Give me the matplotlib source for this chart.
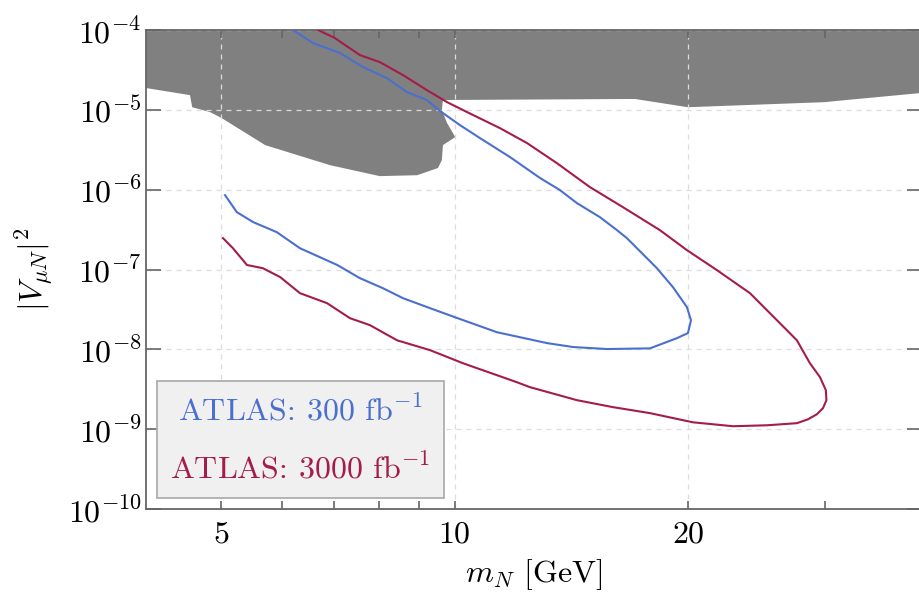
#!/usr/bin/env python3

import numpy as np
import matplotlib
matplotlib.use('Agg')
from matplotlib import pyplot as plt
from matplotlib import ticker


plt.rcParams['font.family'] = 'serif'
plt.rcParams['font.serif'] = ['cmr10']
plt.rcParams['mathtext.fontset'] = 'cm'
plt.rcParams['axes.formatter.use_mathtext'] = True
plt.rcParams['axes.unicode_minus'] = False

COLOR_300 = '#4a6fce'
COLOR_3000 = '#a51c4b'
COLOR_EXCL = '#808080'
COLOR_GRID = '#dcdcdc'
COLOR_AXIS = '#666666'
FONTSIZE = 23

XLIM = (4, 40)
YLIM = (1e-10, 1e-4)
XTICKS = [5, 10, 20]
XMINOR = [6, 7, 8, 9, 30]

# existing exclusion (lower edge of the grey band), m_N in GeV
m_excl = [4.0, 4.56, 4.59, 4.84, 5.01, 5.70, 6.91, 8.01, 8.95, 9.52, 9.63,
          9.66, 10.02, 9.78, 9.63, 9.66, 17.08, 19.99, 30.0, 32.0, 40.0]
v_excl = [1.88e-5, 1.53e-5, 1.08e-5, 9.38e-6, 7.89e-6, 3.62e-6, 2.03e-6,
          1.48e-6, 1.52e-6, 1.87e-6, 2.35e-6, 3.62e-6, 4.56e-6, 6.84e-6,
          9.93e-6, 1.33e-5, 1.37e-5, 1.08e-5, 1.25e-5, 1.33e-5, 1.63e-5]

# ATLAS 300 fb^-1 contour (upper branch, tip, lower branch)
m_300 = [6.19, 6.57, 7.12, 7.62, 8.18, 8.68, 9.21, 9.58, 10.16, 10.78, 11.79,
         12.89, 13.67, 14.38, 15.39, 16.19, 16.68, 18.23, 19.12, 19.93, 20.17,
         19.99, 19.34, 17.86, 15.72, 14.21, 13.15, 11.34, 10.01, 9.30, 8.58,
         8.08, 7.55, 7.06, 6.32, 5.90, 5.50, 5.24, 5.06]
v_300 = [1.0e-4, 6.87e-5, 5.15e-5, 3.44e-5, 2.50e-5, 1.67e-5, 1.33e-5, 9.66e-6,
         6.45e-6, 4.44e-6, 2.56e-6, 1.40e-6, 9.9e-7, 6.79e-7, 4.54e-7, 3.12e-7,
         2.47e-7, 1.04e-7, 6.02e-8, 3.38e-8, 2.32e-8, 1.60e-8, 1.38e-8, 1.03e-8,
         1.01e-8, 1.07e-8, 1.20e-8, 1.64e-8, 2.53e-8, 3.28e-8, 4.38e-8, 5.85e-8,
         7.80e-8, 1.14e-7, 1.85e-7, 2.94e-7, 3.93e-7, 5.24e-7, 8.55e-7]

# ATLAS 3000 fb^-1 contour
m_3000 = [6.67, 7.01, 7.55, 8.01, 8.58, 9.21, 9.78, 10.38, 11.44, 12.40, 13.55,
          14.94, 16.48, 18.39, 19.93, 21.79, 24.03, 26.03, 27.62, 28.71, 29.58,
          30.10, 30.15, 29.84, 29.31, 28.54, 27.62, 25.27, 22.85, 20.29, 17.86,
          16.00, 14.38, 12.51, 12.03, 10.25, 9.30, 8.43, 7.78, 7.33, 6.85, 6.32,
          5.96, 5.66, 5.40, 5.18, 5.03]
v_3000 = [1.0e-4, 7.94e-5, 4.86e-5, 3.97e-5, 2.73e-5, 1.77e-5, 1.25e-5, 9.38e-6,
          5.91e-6, 3.84e-6, 2.15e-6, 1.08e-6, 6.05e-7, 3.12e-7, 1.75e-7, 9.82e-8,
          5.06e-8, 2.32e-8, 1.30e-8, 6.71e-9, 4.49e-9, 3.08e-9, 2.31e-9, 1.83e-9,
          1.54e-9, 1.33e-9, 1.19e-9, 1.12e-9, 1.09e-9, 1.22e-9, 1.59e-9, 1.89e-9,
          2.31e-9, 3.36e-9, 3.88e-9, 6.71e-9, 9.77e-9, 1.30e-8, 2.01e-8, 2.46e-8,
          3.79e-8, 5.06e-8, 8.04e-8, 1.04e-7, 1.14e-7, 1.85e-7, 2.47e-7]

LABEL_300 = r'ATLAS: 300 fb$^{-1}$'
LABEL_3000 = r'ATLAS: 3000 fb$^{-1}$'


fig = plt.figure(figsize=(9.19, 6.06), dpi=100)
ax = fig.add_axes([0.1587, 0.160, 0.8442, 0.7904])
ax.set_xscale('log')
ax.set_yscale('log')
ax.set_xlim(XLIM)
ax.set_ylim(YLIM)

# grey band: lower edge, closed along the top of the axes
ax.fill(np.concatenate([m_excl, [m_excl[-1], m_excl[0]]]),
        np.concatenate([v_excl, [YLIM[1], YLIM[1]]]),
        color=COLOR_EXCL, lw=0, zorder=1)

ax.plot(m_300, v_300, color=COLOR_300, lw=1.5, label=LABEL_300, zorder=3)
ax.plot(m_3000, v_3000, color=COLOR_3000, lw=1.5, label=LABEL_3000, zorder=3)

# ticks
ax.xaxis.set_major_locator(ticker.FixedLocator(XTICKS))
ax.xaxis.set_major_formatter(ticker.FuncFormatter(lambda v, p: '%d' % v))
ax.xaxis.set_minor_locator(ticker.FixedLocator(XMINOR))
ax.xaxis.set_minor_formatter(ticker.NullFormatter())
ax.yaxis.set_major_locator(ticker.LogLocator(base=10, numticks=20))
ax.yaxis.set_major_formatter(
    ticker.FuncFormatter(lambda v, p: r'$10^{%d}$' % round(np.log10(v))))
ax.yaxis.set_minor_locator(ticker.NullLocator())

ax.tick_params(which='both', direction='in', top=True, right=True,
               color=COLOR_AXIS, labelsize=FONTSIZE)
ax.tick_params(axis='y', which='major', length=10.5, width=1.2, pad=3)
ax.tick_params(axis='x', which='both', length=6, width=1.2, pad=9)

for spine in ax.spines.values():
    spine.set_color(COLOR_AXIS)
    spine.set_linewidth(1.3)

ax.grid(True, which='major', ls='--', color=COLOR_GRID, lw=0.9, dashes=(4, 4))

ax.set_xlabel(r'$m_N$ [GeV]', fontsize=FONTSIZE, labelpad=6)
ax.set_ylabel(r'$|V_{\mu N}|^2$', fontsize=FONTSIZE, labelpad=8)

# legend: coloured text only, no handles
leg = ax.legend(loc='lower left', handlelength=0, handletextpad=0,
                fontsize=FONTSIZE, fancybox=False, framealpha=1,
                facecolor='#f0f0f0', edgecolor='#a8a8a8',
                borderaxespad=0.35, borderpad=0.42, labelspacing=0.85)
leg.get_frame().set_linewidth(1.2)
for h in leg.legend_handles:
    h.set_visible(False)
for t, c in zip(leg.get_texts(), [COLOR_300, COLOR_3000]):
    t.set_color(c)
for box in leg._legend_handle_box.get_children():
    box.align = 'center'

fig.savefig('out.png', dpi=100)
